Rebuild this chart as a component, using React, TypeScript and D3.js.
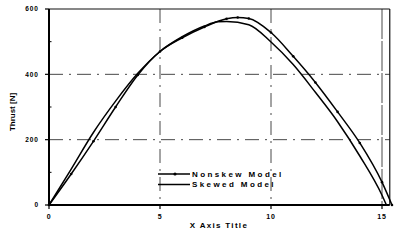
import React from "react";
import { scaleLinear, line, curveMonotoneX } from "d3";

// thrust curves
const nonskewX = [0, 1, 2, 3, 4, 5, 6, 7, 8, 8.5, 9, 10, 11, 12, 13, 14, 15, 15.45];
const nonskewY = [0, 95, 195, 300, 398, 470, 512, 545, 570, 574, 571, 528, 455, 375, 285, 190, 70, 0];
const skewedX = [0, 1, 2, 3, 4, 5, 6, 7, 7.6, 8, 9, 10, 11, 12, 13, 14, 15, 15.2];
const skewedY = [0, 110, 222, 318, 403, 470, 515, 548, 561, 562, 552, 499, 430, 345, 255, 150, 30, 0];

const xTicks = [0, 5, 10, 15];
const yTicks = [0, 200, 400, 600];
const yMinor = [100, 300, 500];
const legendNames = ["Nonskew Model", "Skewed Model"];

const W = 394;
const H = 240;
const font = "'Liberation Sans', Arial, sans-serif";

function App() {
  const x = scaleLinear().domain([0, 15]).range([49, 382]);
  const y = scaleLinear().domain([0, 600]).range([205, 9]);
  const right = x(15.35);

  const lineGen = line<[number, number]>()
    .x(d => x(d[0]))
    .y(d => y(d[1]))
    .curve(curveMonotoneX);

  const nonskew = nonskewX.map((v, i) => [v, nonskewY[i]] as [number, number]);
  const skewed = skewedX.map((v, i) => [v, skewedY[i]] as [number, number]);

  return (
    <svg
      width={W}
      height={H}
      style={{ position: "absolute", left: 0, top: 0, background: "#fff" }}
    >
      {/* grid */}
      {yTicks.filter(t => t > 0 && t < 600).map(t => (
        <line key={"gy" + t} x1={x(0)} x2={right} y1={y(t)} y2={y(t)}
          stroke="#333" strokeWidth={0.9} strokeDasharray="14,6,2,6" />
      ))}
      {xTicks.filter(t => t > 0).map(t => (
        <line key={"gx" + t} x1={x(t)} x2={x(t)} y1={y(600)} y2={y(0)}
          stroke="#333" strokeWidth={0.9} strokeDasharray={t === 15 ? "30,2" : "14,6,2,6"} />
      ))}

      {/* frame */}
      <line x1={x(0)} x2={right} y1={y(600)} y2={y(600)} stroke="#111" strokeWidth={1.2} />
      <line x1={right} x2={right} y1={y(600)} y2={y(0)} stroke="#111" strokeWidth={1.2} />
      <line x1={x(0)} x2={x(0)} y1={y(600)} y2={y(0)} stroke="#000" strokeWidth={2} />
      <line x1={x(0) - 1} x2={right} y1={y(0)} y2={y(0)} stroke="#000" strokeWidth={2} />

      {/* y ticks */}
      {yTicks.map(t => (
        <g key={"yt" + t}>
          <line x1={x(0) - 4} x2={x(0)} y1={y(t)} y2={y(t)} stroke="#000" strokeWidth={1.2} />
          <text x={39} y={y(t)} dy="0.35em" textAnchor="end" fontFamily={font}
            fontWeight="bold" fontSize={6.5} letterSpacing={1}>{t}</text>
        </g>
      ))}
      {yMinor.map(t => (
        <line key={"ym" + t} x1={x(0)} x2={x(0) + 2.5} y1={y(t)} y2={y(t)} stroke="#000" strokeWidth={1} />
      ))}

      {/* x ticks */}
      {xTicks.map(t => (
        <g key={"xt" + t}>
          <line x1={x(t)} x2={x(t)} y1={y(0)} y2={y(0) + 4} stroke="#000" strokeWidth={1.2} />
          <text x={x(t)} y={219} textAnchor="middle" fontFamily={font}
            fontWeight="bold" fontSize={7} letterSpacing={0.8}>{t}</text>
        </g>
      ))}

      {/* curves */}
      <path d={lineGen(skewed) || ""} fill="none" stroke="#000" strokeWidth={1.5} />
      <path d={lineGen(nonskew) || ""} fill="none" stroke="#000" strokeWidth={1.5} />
      {nonskew.map((d, i) => (
        <circle key={"m" + i} cx={x(d[0])} cy={y(d[1])} r={1.3} fill="#000" />
      ))}

      {/* legend */}
      {legendNames.map((name, i) => (
        <g key={name} transform={`translate(0,${174 + i * 10.5})`}>
          <line x1={158} x2={190} y1={0} y2={0} stroke="#000" strokeWidth={1.5} />
          {i === 0 && <circle cx={175} cy={0} r={1.6} fill="#000" />}
          <text x={192} y={0} dy="0.35em" fontFamily={font} fontWeight="bold"
            fontSize={8} letterSpacing={2.4}>{name}</text>
        </g>
      ))}

      {/* axis titles */}
      <text x={219} y={228} textAnchor="middle" fontFamily={font} fontWeight="bold"
        fontSize={8} letterSpacing={1.3}>X Axis Title</text>
      <text transform={`translate(15,112) rotate(-90)`} textAnchor="middle" fontFamily={font}
        fontWeight="bold" fontSize={8}>Thrust [N]</text>
    </svg>
  );
}

export default App;
